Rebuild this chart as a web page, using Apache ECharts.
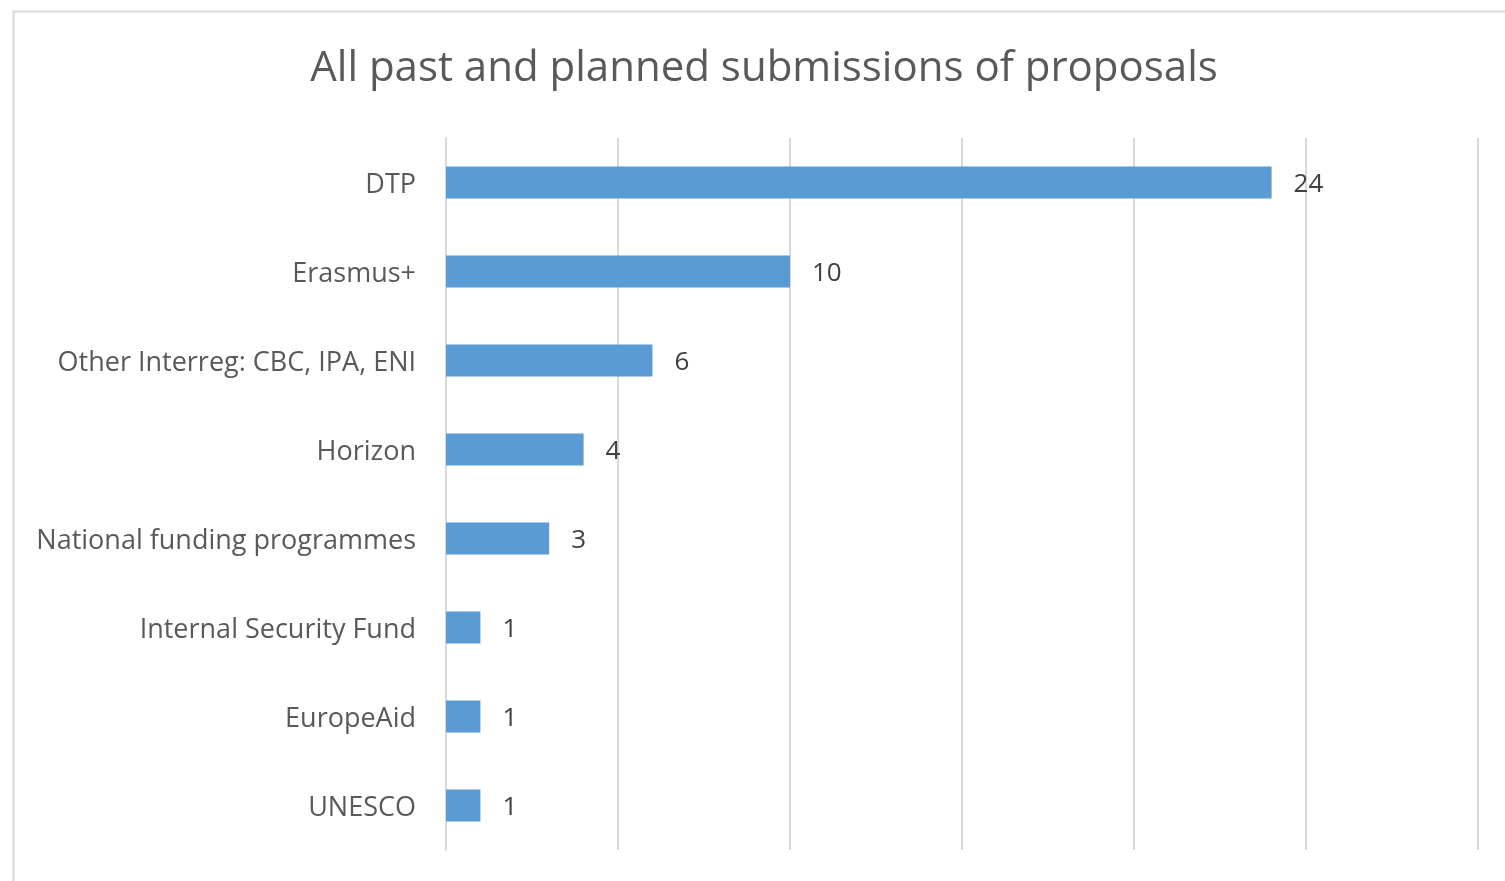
<!DOCTYPE html>
<html><head><meta charset="utf-8">
<script src="https://cdn.jsdelivr.net/npm/echarts@6/dist/echarts.min.js"></script>
<style>html,body{margin:0;padding:0;background:#fff}#c{width:1505px;height:881px}</style>
</head><body><div id="c"></div>
<script>
const titleText = 'All past and planned submissions of proposals';
const categories = ['DTP','Erasmus+','Other Interreg: CBC, IPA, ENI','Horizon','National funding programmes','Internal Security Fund','EuropeAid','UNESCO'];
const values = [24,10,6,4,3,1,1,1];
const axisMin = 0, axisMax = 30, axisStep = 5;

const chart = echarts.init(document.getElementById('c'), null, {renderer:'canvas'});
chart.setOption({
  animation:false,
  backgroundColor:'#fff',
  graphic:[{type:'rect',left:11,top:9,shape:{width:1600,height:1000},style:{fill:'none',stroke:'#d9d9d9',lineWidth:2},silent:true,z:-1}],
  title:{text:titleText,left:759,textAlign:'center',top:43,textStyle:{fontFamily:'Open Sans',fontSize:42,fontWeight:'normal',color:'#595959'}},
  grid:{left:446,right:27,top:138,bottom:31,containLabel:false},
  xAxis:{type:'value',min:axisMin,max:axisMax,interval:axisStep,axisLabel:{show:false},axisLine:{show:false},axisTick:{show:false},
    splitLine:{show:true,lineStyle:{color:'#d9d9d9',width:2}}},
  yAxis:{type:'category',data:categories,inverse:true,axisTick:{show:false},
    axisLine:{show:true,lineStyle:{color:'#d9d9d9',width:2}},
    axisLabel:{margin:30,fontFamily:'Open Sans',fontSize:27,color:'#595959',
      formatter:v=>'{a|'+v+'}',
      rich:{a:{fontFamily:'Open Sans',fontSize:27,color:'#595959',padding:[5,0,0,0]}}}},
  series:[{type:'bar',data:values,barWidth:32,itemStyle:{color:'#5b9bd5'},
    label:{show:true,position:'right',distance:22,offset:[0,2],fontFamily:'Open Sans',fontSize:26,color:'#404040'}}]
});
</script></body></html>
